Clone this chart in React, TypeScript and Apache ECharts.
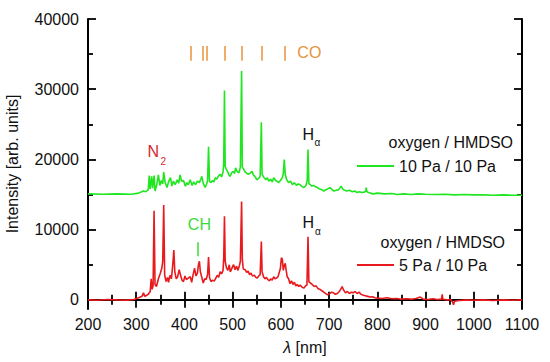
import React, { useEffect, useRef } from "react";
import * as echarts from "echarts";

// ---- data ----
const redWl = [200,220,240,260,280,295,305,312,315,318,325,329,331,333,335,337,339,342,346,350,353,355,357,359,362,365,367,370,373,376,378,380,383,386,389,392,395,398,401,404,408,412,415,418,421,424,427,429,431,433,436,439,442,445,448,450,452,455,458,462,465,468,471,474,477,480,481.5,483,484.5,487,490,493,495,498,500,502,505,508,511,514,516,518.5,520,522,526,529,532,535,538,541,545,548,551,554,557,559.5,561,564,567,570,573,576,579,582,585,588,591,594,597,599,601,603,605,607,609,611,613,616,619,622,625,628,631,634,637,640,644,648,651,654,656.3,658,661,665,669,673,677,681,685,689,693,697,701,705,709,713,717,721,724,727,730,734,738,742,746,750,754,758,762,766,770,775,780,785,790,795,800,810,820,830,840,850,860,870,880,889,895,905,915,925,933,934.5,936,945,952,956,958,960,970,985,1000,1020,1040,1060,1080,1100];
const redInt = [0,-50,50,0,-30,50,300,500,1000,500,800,1200,3000,1500,2000,12700,2200,1900,3000,3800,4500,5500,13500,3500,2600,3200,2500,3500,3000,5200,7100,4000,3000,3300,4300,3500,2800,2600,3400,2900,3100,3300,2500,3600,4500,3400,3800,5000,5500,4000,3200,2400,3000,2900,3600,6100,3200,2600,2800,2700,3100,3500,3200,4000,3700,4200,6000,11900,5500,4600,4200,5000,4000,4400,4800,5000,4300,4800,4200,4900,5500,14000,5800,4400,4300,3900,4100,3600,3800,3400,3500,3200,3100,3400,3600,8300,4000,3300,3000,3200,2900,2700,3000,2800,3300,3000,3100,3300,4000,4500,6000,5800,4200,4900,5200,4200,3300,3000,2300,2700,2200,2500,2000,2200,1900,2100,1800,1700,2000,2100,9000,2600,2400,2200,1900,2000,1600,1500,1300,1100,900,700,900,1100,1000,800,900,1200,1500,1900,1400,1000,1200,900,1100,1000,1200,900,1100,800,700,600,500,400,450,300,250,200,300,150,200,100,150,100,200,400,100,50,150,50,100,800,100,0,50,-300,-700,-200,-100,0,-50,0,-100,0,-50,0];

const greenWl = [200,230,260,290,305,315,320,325,327,329,332,334,337,339,342,346,349,352,355,357,360,364,367,371,374,377,381,385,388,391,394,398,402,405,408,412,416,419,423,427,431,434,436,439,443,446,448,450,452,455,458,461,464,467,470,474,477,480,481.5,483,484.5,487,490,493,495,498,501,504,506,509,513,516,518.5,520,523,526,530,533,537,540,543,547,550,554,557,559.5,561,565,569,572,575,579,582,585,589,592,595,599,603,605,607,609,612,616,620,624,628,632,636,640,644,648,652,654.5,656.3,658,661,664,668,672,675,680,685,689,693,697,702,706,710,715,720,725,728,732,737,742,748,753,758,763,768,773,776,777,778.5,785,792,800,815,830,841,855,870,885,900,920,940,960,980,1000,1020,1040,1060,1080,1100];
const greenInt = [15100,15050,15100,15050,15200,15500,15400,15700,17700,15800,17600,15900,17700,15500,16200,17800,16300,17000,16500,18200,16700,16000,16800,17400,16200,16900,16400,17100,16600,17800,16900,17000,16200,16700,16400,17100,16300,16800,16400,16900,16700,17200,17600,16600,16000,16500,17000,21800,16900,16700,17000,16800,17400,17200,17600,17900,17500,18200,19500,29800,19000,18600,18200,17700,17600,18100,18300,18000,18800,18300,18100,18900,32600,18900,18600,18200,18000,17900,18100,18300,17800,17500,17100,17300,17600,25300,17900,17400,17100,17400,16900,17200,16800,17400,17000,16900,16700,17000,17400,18000,20000,17900,17100,16700,16900,16400,16700,16300,16500,16400,16100,16000,16300,17000,21400,16600,16400,16200,16300,16100,16000,15800,15700,15500,15700,15800,16000,15700,15500,15600,15700,16200,15800,15600,15500,15600,15400,15500,15300,15400,15300,15350,15500,16000,15400,15200,15100,15200,15100,15150,15000,15100,15000,15100,15050,15000,15050,14950,15000,14950,14950,14900,14950,14900,14900];

// CO band marker positions (nm) and their vertical extent
const coBands = [412.5, 438.5, 447, 483, 518.5, 559.5, 607.5];
const coTick = [34050, 36150];
// CH marker
const chBand = 428;
const chTick = [6200, 8200];

const yLabelValues = [0, 10000, 20000, 30000, 40000];
const yMinorValues = [5000, 15000, 25000, 35000];

const GREEN = "#1fe61f";
const RED = "#e81a1e";
const ORANGE = "#e8923a";
const FONT = "'Liberation Sans', Arial, sans-serif";

export default function App() {
  const ref = useRef<HTMLDivElement>(null);
  useEffect(() => {
    const chart = echarts.init(ref.current!, null, { renderer: "svg" });
    const Y_MIN = -1300;
    const Y_MAX = 40000;
    const plain = (v: number) => String(v);
    const axisLine = { show: true, lineStyle: { color: "#000", width: 2 } };
    const yBase = (pos: string, ticks: number[], len: number, labels: boolean, line: boolean) => ({
      type: "value",
      position: pos,
      min: Y_MIN,
      max: Y_MAX,
      splitLine: { show: false },
      axisLine: line ? axisLine : { show: false },
      axisTick: { show: true, inside: true, length: len, customValues: ticks, lineStyle: { color: "#000", width: 1.8 } },
      axisLabel: labels
        ? { show: true, customValues: yLabelValues, formatter: plain, fontSize: 16, color: "#111", fontFamily: FONT, margin: 9 }
        : { show: false },
    });
    const xBase = (pos: string, labels: boolean) => ({
      type: "value",
      position: pos,
      min: 200,
      max: 1100,
      interval: 100,
      splitLine: { show: false },
      axisLine,
      axisTick: { show: true, inside: true, length: 8, lineStyle: { color: "#000", width: 1.8 } },
      minorTick: { show: true, splitNumber: 2, length: 5, lineStyle: { color: "#000", width: 1.8 } },
      minorSplitLine: { show: false },
      axisLabel: labels
        ? { show: true, formatter: plain, fontSize: 16, color: "#111", fontFamily: FONT, margin: 7 }
        : { show: false },
    });
    const legendBase = (name: string, top: number) => ({
      data: [{ name, icon: "rect" }],
      left: 357,
      top,
      padding: 0,
      itemWidth: 37,
      itemHeight: 2,
      textStyle: { fontSize: 16, color: "#111", fontFamily: FONT },
      selectedMode: false,
    });
    const yAx0: any = yBase("left", yLabelValues, 8, true, true);
    yAx0.name = "Intensity [arb. units]";
    yAx0.nameLocation = "middle";
    yAx0.nameGap = 56;
    yAx0.nameTextStyle = { fontSize: 16, color: "#111", fontFamily: FONT, padding: [0, 0, 12, 0] };
    const xAx0: any = xBase("bottom", true);
    xAx0.name = "{i|λ} [nm]";
    xAx0.nameLocation = "middle";
    xAx0.nameGap = 30;
    xAx0.nameTextStyle = {
      fontSize: 16,
      color: "#111",
      fontFamily: FONT,
      rich: { i: { fontSize: 16, fontStyle: "italic", color: "#111", fontFamily: FONT } },
    };
    chart.setOption({
      animation: false,
      backgroundColor: "#fff",
      grid: { left: 88, right: 28, top: 19, bottom: 53, containLabel: false, outerBoundsMode: "none" },
      xAxis: [xAx0, xBase("top", false)],
      yAxis: [
        yAx0,
        yBase("left", yMinorValues, 5, false, false),
        yBase("right", yLabelValues, 8, false, true),
        yBase("right", yMinorValues, 5, false, false),
      ],
      legend: [legendBase("10 Pa / 10 Pa", 158), legendBase("5 Pa / 10 Pa", 257)],
      series: [
        {
          type: "line",
          name: "10 Pa / 10 Pa",
          data: greenWl.map((w, i) => [w, greenInt[i]]),
          symbol: "none",
          lineStyle: { color: GREEN, width: 1.6 },
          itemStyle: { color: GREEN },
          z: 3,
          markLine: {
            silent: true,
            symbol: ["none", "none"],
            label: { show: false },
            animation: false,
            data: [
              ...coBands.map((w) => [
                { coord: [w, coTick[0]], lineStyle: { color: ORANGE, width: 1.5, type: "solid" } },
                { coord: [w, coTick[1]] },
              ]),
              [
                { coord: [chBand, chTick[0]], lineStyle: { color: "#3cd83c", width: 1.5, type: "solid" } },
                { coord: [chBand, chTick[1]] },
              ],
            ],
          },
        },
        {
          type: "line",
          name: "5 Pa / 10 Pa",
          data: redWl.map((w, i) => [w, redInt[i]]),
          symbol: "none",
          lineStyle: { color: RED, width: 1.6 },
          itemStyle: { color: RED },
          z: 2,
        },
      ],
    });

    const px = (x: number, y: number) => chart.convertToPixel({ xAxisIndex: 0, yAxisIndex: 0 }, [x, y]) as number[];
    const txt = (p: number[], text: string, size: number, fill: string, dx = 0, dy = 0) => ({
      type: "text",
      x: p[0] + dx,
      y: p[1] + dy,
      silent: true,
      style: { text, fontSize: size, fill, fontFamily: FONT, align: "center", verticalAlign: "middle" },
    });
    const n2 = px(335.4, 21140);
    const ch = px(431, 10710);
    const hg = px(657, 23570);
    const hr = px(657, 11000);
    const co = px(659, 35290);
    chart.setOption({
      graphic: [
        txt(n2, "N", 16, "#d9262c"),
        txt(n2, "2", 10, "#d9262c", 10, 10),
        txt(ch, "CH", 16, "#3cd83c"),
        txt(hg, "H", 16, "#111"),
        txt(hg, "α", 10, "#111", 9, 8),
        txt(hr, "H", 16, "#111"),
        txt(hr, "α", 10, "#111", 9.5, 9),
        txt(co, "CO", 16, ORANGE),
        {
          type: "text",
          x: 513,
          y: 142,
          silent: true,
          style: { text: "oxygen / HMDSO", fontSize: 16, fill: "#111", fontFamily: FONT, align: "right", verticalAlign: "middle" },
        },
        {
          type: "text",
          x: 505,
          y: 242,
          silent: true,
          style: { text: "oxygen / HMDSO", fontSize: 16, fill: "#111", fontFamily: FONT, align: "right", verticalAlign: "middle" },
        },
      ],
    });
    return () => chart.dispose();
  }, []);
  return (
    <div
      ref={ref}
      style={{ position: "fixed", left: 0, top: 0, width: 550, height: 362, background: "#fff" }}
    />
  );
}
